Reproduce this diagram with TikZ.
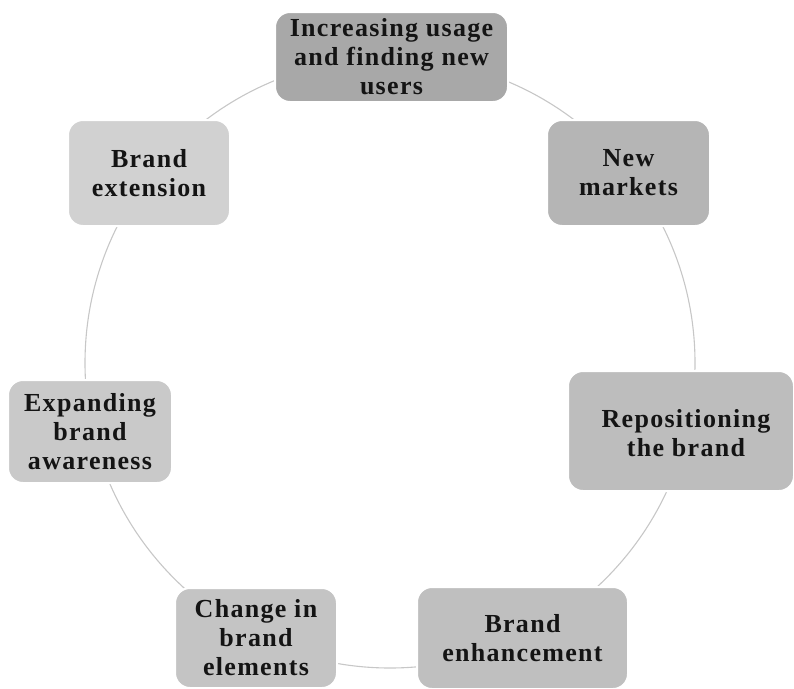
\documentclass[tikz,border=0pt]{standalone}
\usepackage{fontspec}
\setmainfont{Liberation Serif}[LetterSpace=5]
\begin{document}
\begin{tikzpicture}[x=1pt,y=-1pt,
  lbl/.style={align=center, inner sep=0pt, font=\fontsize{26}{29}\selectfont\bfseries, text=black!92},
  box/.style={lbl, draw=white, line width=2pt, rounded corners=15pt},
  ring/.style={draw=black!22, line width=1.1pt}]
\useasboundingbox (0,0) rectangle (794,688);
\coordinate (c) at (390,363);
\draw[ring] (c) circle[radius=305];
\node[box, fill=black!34, minimum width=233pt, minimum height=90pt] (n1) at (391.5,57)
  {Increasing usage\\and finding new\\users};
\node[box, fill=black!29, minimum width=163pt, minimum height=106pt] (n2) at (628.5,173)
  {New\\markets};
\node[box, fill=black!26, minimum width=226pt, minimum height=120pt] (n3) at (681,431) {};
\node[lbl] (t3) at (686,433) {Repositioning\\the brand};
\node[box, fill=black!25, minimum width=211pt, minimum height=102pt] (n4) at (522.5,638)
  {Brand\\enhancement};
\node[box, fill=black!23, minimum width=162pt, minimum height=100pt] (n5) at (256,638)
  {Change in\\brand\\elements};
\node[box, fill=black!21, minimum width=164pt, minimum height=103pt] (n6) at (90,431.5)
  {Expanding\\brand\\awareness};
\node[box, fill=black!18, minimum width=162pt, minimum height=106pt] (n7) at (149,173)
  {Brand\\extension};
\end{tikzpicture}
\end{document}
